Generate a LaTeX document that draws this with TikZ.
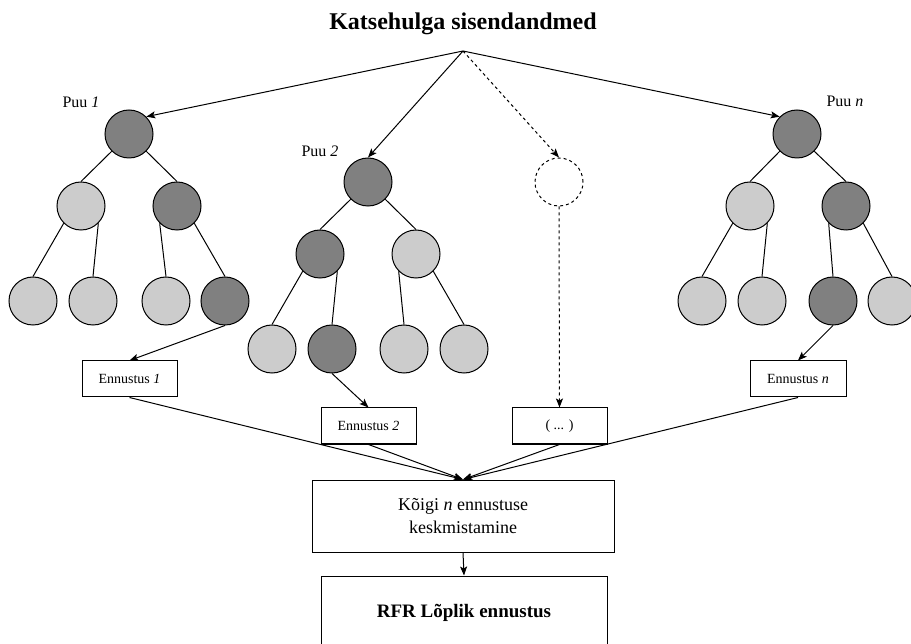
\documentclass[tikz,border=0pt]{standalone}
\usepackage{fontspec}
\setmainfont{Liberation Serif}
\usepackage{tikz}
\usetikzlibrary{arrows.meta}
\definecolor{darkleaf}{RGB}{128, 128, 128}
\definecolor{lightleaf}{RGB}{204, 204, 204}

\begin{document}
\begin{tikzpicture}[x=1pt, y=-1pt, line width=1pt,
        darknode/.style={circle, draw=black, fill=darkleaf,  minimum size=48pt, inner sep=0pt},
        lightnode/.style={circle, draw=black, fill=lightleaf, minimum size=48pt, inner sep=0pt},
        ghostnode/.style={circle, draw=black, dash pattern=on 3pt off 3pt, minimum size=48pt, inner sep=0pt},
        predbox/.style={draw=black, fill=white, minimum width=95pt, minimum height=36pt, inner sep=0pt, font=\fontsize{14}{16}\selectfont},
        bigbox/.style={draw=black, fill=white, align=center, inner sep=0pt},
        treelabel/.style={anchor=base, font=\fontsize{16}{19}\selectfont},
        arr/.style={-{Stealth[length=9pt, width=7pt, inset=2pt]}},
        dasharr/.style={arr, dash pattern=on 3pt off 3pt}]
            % Frame to ensure alignment:
            \useasboundingbox                                             (0, 0) rectangle (911, 644);
            \node[anchor=base, font=\fontsize{24}{28}\selectfont\bfseries] (title) at (463, 30) {Katsehulga sisendandmed};
            \coordinate (apex) at (463, 51);
            % Puu 1
            \node[treelabel]  (lab1)  at ( 81, 108) {Puu \textit{1}};
            \node[darknode]   (t1r)   at (129, 134) {};
            \node[lightnode]  (t1a)   at ( 81, 206) {};
            \node[darknode]   (t1b)   at (177, 206) {};
            \node[lightnode]  (t1aa)  at ( 33, 301) {};
            \node[lightnode]  (t1ab)  at ( 93, 301) {};
            \node[lightnode]  (t1ba)  at (166, 301) {};
            \node[darknode]   (t1bb)  at (225, 301) {};
            % Puu 2
            \node[treelabel]  (lab2)  at (320, 157) {Puu \textit{2}};
            \node[darknode]   (t2r)   at (368, 182) {};
            \node[darknode]   (t2a)   at (320, 254) {};
            \node[lightnode]  (t2b)   at (416, 254) {};
            \node[lightnode]  (t2aa)  at (272, 349) {};
            \node[darknode]   (t2ab)  at (332, 349) {};
            \node[lightnode]  (t2ba)  at (404, 349) {};
            \node[lightnode]  (t2bb)  at (464, 349) {};
            % Puu ... (puuduv)
            \node[ghostnode]  (t3r)   at (559, 182) {};
            % Puu n
            \node[treelabel]  (labn)  at (845, 107) {Puu \textit{n}};
            \node[darknode]   (tnr)   at (797, 134) {};
            \node[lightnode]  (tna)   at (750, 206) {};
            \node[darknode]   (tnb)   at (846, 206) {};
            \node[lightnode]  (tnaa)  at (702, 301) {};
            \node[lightnode]  (tnab)  at (762, 301) {};
            \node[darknode]   (tnba)  at (833, 301) {};
            \node[lightnode]  (tnbb)  at (892, 301) {};
            % Ennustused
            \node[predbox]    (e1)    at (129.5, 379) {Ennustus \textit{1}};
            \node[predbox]    (e2)    at (368.5, 426) {Ennustus \textit{2}};
            \node[predbox]    (e3)    at (559.5, 426) {( ... )};
            \node[predbox, minimum width=96pt] (en) at (798, 379) {Ennustus \textit{n}};
            \node[bigbox, minimum width=302pt, minimum height=72pt, font=\fontsize{18}{23}\selectfont] (avg) at (463, 516)
                 {Kõigi \textit{n} ennustuse\\keskmistamine};
            \node[bigbox, minimum width=286pt, minimum height=74pt, font=\fontsize{19}{23}\selectfont\bfseries] (final) at (464, 613)
                 {RFR Lõplik ennustus};
            % Sisend puudesse
            \draw[arr]     (apex) -- (t1r.north east);
            \draw[arr]     (apex) -- (t2r.north);
            \draw[dasharr] (apex) -- (t3r.north);
            \draw[arr]     (apex) -- (tnr.north west);
            % Puude harud
            \foreach \t in {t1, t2, tn} {
                \draw (\t r.south west) -- (\t a.north);
                \draw (\t r.south east) -- (\t b.north);
                \draw (\t a.south west) -- (\t aa.north);
                \draw (\t a.south east) -- (\t ab.north);
                \draw (\t b.south west) -- (\t ba.north);
                \draw (\t b.south east) -- (\t bb.north);
            }
            % Lehed ennustusteks
            \draw[arr]     (t1bb.south) -- (e1.north);
            \draw[arr]     (t2ab.south) -- (e2.north);
            \draw[dasharr] (t3r.south)  -- (e3.north);
            \draw[arr]     (tnba.south) -- (en.north);
            % Keskmistamine
            \draw[arr]     (e1.south) -- (avg.north);
            \draw[arr]     (e2.south) -- (avg.north);
            \draw[arr]     (e3.south) -- (avg.north);
            \draw[arr]     (en.south) -- (avg.north);
            \draw[arr]     (avg.south) -- (final.north);
        \end{tikzpicture}
\end{document}
